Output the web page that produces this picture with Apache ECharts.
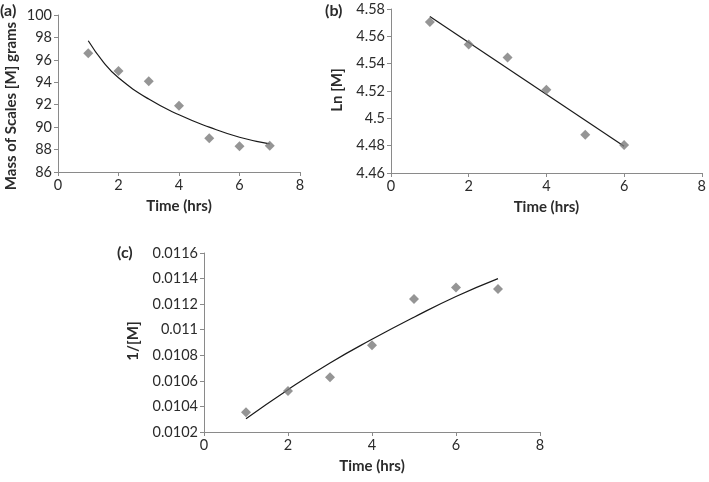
<!DOCTYPE html>
<html><head><meta charset="utf-8">
<script src="https://cdn.jsdelivr.net/npm/echarts@6/dist/echarts.min.js"></script>
<style>html,body{margin:0;padding:0;background:#fff}#c{width:709px;height:482px}</style>
</head><body><div id="c"></div>
<script>
// Panel (a): Mass of scales vs time
const timeA = [1, 2, 3, 4, 5, 6, 7];
const massA = [96.6, 95.0, 94.1, 91.9, 89.0, 88.3, 88.35];
const fitTimeA = [1, 1.5, 2, 3, 4, 5, 6, 7];
const fitMassA = [97.7, 95.8, 94.4, 92.5, 91.1, 90.0, 89.1, 88.5];
// Panel (b): Ln[M] vs time
const timeB = [1, 2, 3, 4, 5, 6];
const lnB = [4.5705, 4.554, 4.5445, 4.521, 4.488, 4.4805];
const fitTimeB = [1, 6];
const fitLnB = [4.5746, 4.4796];
// Panel (c): 1/[M] vs time
const timeC = [1, 2, 3, 4, 5, 6, 7];
const invC = [0.010354, 0.010521, 0.010628, 0.010878, 0.01124, 0.011331, 0.011318];
const fitTimeC = [1, 2, 3, 4, 5, 6, 7];
const fitInvC = [0.010304, 0.010531, 0.01074, 0.010925, 0.011098, 0.01126, 0.0114];
// Axis ranges
const xTicks = {min: 0, max: 8, interval: 2};
const yA = {min: 86, max: 100, interval: 2};
const yB = {min: 4.46, max: 4.58, interval: 0.02};
const yC = {min: 0.0102, max: 0.0116, interval: 0.0002};
// Titles
const xTitle = 'Time (hrs)';
const yTitles = ['Mass of Scales [M] grams', 'Ln [M]', '1/[M]'];
const panelLabels = ['(a)', '(b)', '(c)'];

const FONT = 'Lato';
const axisCol = '#8a8a8a';
const textCol = '#2b2b2b';
const pairs = (xs, ys) => xs.map((x, i) => [x, ys[i]]);

function xAx(gi) {
  return {
    type: 'value', gridIndex: gi, min: xTicks.min, max: xTicks.max, interval: xTicks.interval,
    name: xTitle, nameLocation: 'middle', nameGap: 27,
    nameTextStyle: {fontFamily: FONT, fontWeight: 'bold', fontSize: 15, color: textCol},
    axisLine: {lineStyle: {color: axisCol}}, axisTick: {show: true, length: 4, lineStyle: {color: axisCol}},
    axisLabel: {fontFamily: FONT, fontSize: 14.5, color: textCol, margin: 6},
    splitLine: {show: false}
  };
}
function yAx(gi, r, dec) {
  return {
    type: 'value', gridIndex: gi, min: r.min, max: r.max, interval: r.interval,
    axisLine: {show: true, lineStyle: {color: axisCol}}, axisTick: {show: true, length: 4, lineStyle: {color: axisCol}},
    axisLabel: {fontFamily: FONT, fontSize: 14.5, color: textCol, margin: 6,
      formatter: v => parseFloat(v.toFixed(dec)).toString()},
    splitLine: {show: false}
  };
}
function scatter(i, xs, ys) {
  return {type: 'scatter', xAxisIndex: i, yAxisIndex: i, data: pairs(xs, ys),
    symbol: 'diamond', symbolSize: 10, itemStyle: {color: '#7a7a7a'}, z: 3};
}
function fit(i, xs, ys) {
  return {type: 'line', xAxisIndex: i, yAxisIndex: i, data: pairs(xs, ys), smooth: true,
    showSymbol: false, lineStyle: {color: '#1a1a1a', width: 1.2}, z: 2};
}
function yTitle(text, x, y) {
  return {type: 'text', x: x, y: y, rotation: Math.PI / 2,
    style: {text: text, font: 'bold 15px Lato', fill: textCol, align: 'center', verticalAlign: 'middle'}};
}
function panel(text, x, y) {
  return {type: 'text', x: x, y: y, style: {text: text, font: 'bold 16px Lato', fill: textCol}};
}

const chart = echarts.init(document.getElementById('c'), null, {renderer: 'canvas'});
chart.setOption({
  animation: false,
  grid: [
    {left: 58, top: 15, width: 242, height: 157},
    {left: 391, top: 9, width: 312, height: 164},
    {left: 204, top: 253, width: 336, height: 179}
  ],
  xAxis: [xAx(0), xAx(1), xAx(2)],
  yAxis: [yAx(0, yA, 0), yAx(1, yB, 2), yAx(2, yC, 4)],
  series: [
    scatter(0, timeA, massA), fit(0, fitTimeA, fitMassA),
    scatter(1, timeB, lnB), fit(1, fitTimeB, fitLnB),
    scatter(2, timeC, invC), fit(2, fitTimeC, fitInvC)
  ],
  graphic: [
    panel(panelLabels[0], 0, 3), panel(panelLabels[1], 325, 3), panel(panelLabels[2], 117, 245),
    yTitle(yTitles[0], 11, 106), yTitle(yTitles[1], 337, 90), yTitle(yTitles[2], 133, 341)
  ]
});
</script></body></html>
